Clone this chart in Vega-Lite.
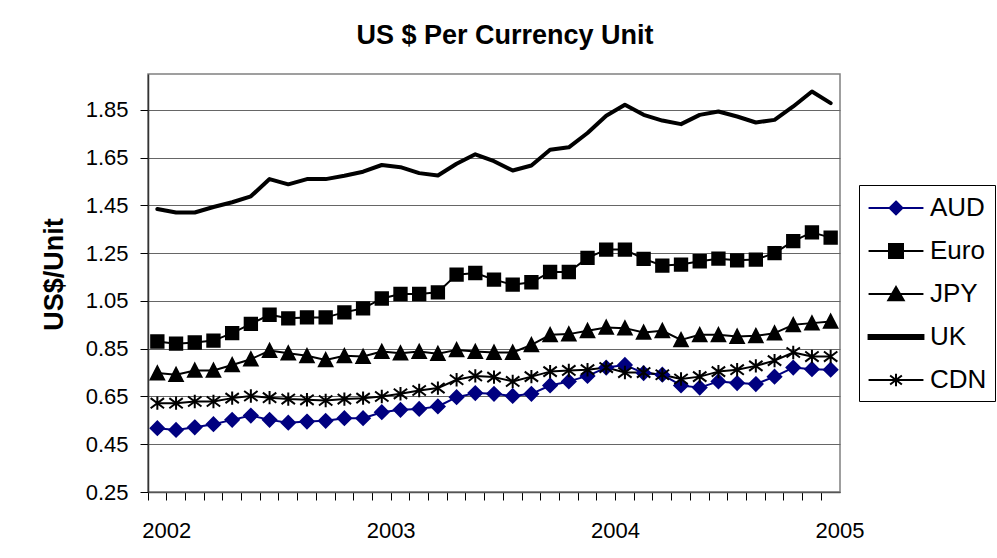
{
  "$schema": "https://vega.github.io/schema/vega-lite/v6.json",
  "width": 692,
  "height": 418,
  "autosize": {"type": "none"},
  "padding": {"left": 148, "top": 74, "right": 157, "bottom": 66},
  "background": "white",
  "config": {"font": "Liberation Sans", "view": {"stroke": "#808080", "strokeWidth": 1.5}},
  "title": {"text": "US $ Per Currency Unit", "fontSize": 27, "fontWeight": "bold", "font": "Liberation Sans", "color": "#000", "offset": 24, "dx": 11, "anchor": "middle"},
  "data": {"values": [
    {"month": "2002-01", "AUD": 0.517, "Euro": 0.880, "JPY": 0.748, "UK": 1.435, "CDN": 0.622},
    {"month": "2002-02", "AUD": 0.510, "Euro": 0.871, "JPY": 0.741, "UK": 1.420, "CDN": 0.622},
    {"month": "2002-03", "AUD": 0.521, "Euro": 0.876, "JPY": 0.759, "UK": 1.420, "CDN": 0.629},
    {"month": "2002-04", "AUD": 0.534, "Euro": 0.884, "JPY": 0.759, "UK": 1.443, "CDN": 0.629},
    {"month": "2002-05", "AUD": 0.552, "Euro": 0.915, "JPY": 0.782, "UK": 1.463, "CDN": 0.643},
    {"month": "2002-06", "AUD": 0.570, "Euro": 0.954, "JPY": 0.806, "UK": 1.488, "CDN": 0.652},
    {"month": "2002-07", "AUD": 0.552, "Euro": 0.992, "JPY": 0.842, "UK": 1.560, "CDN": 0.645},
    {"month": "2002-08", "AUD": 0.540, "Euro": 0.977, "JPY": 0.831, "UK": 1.538, "CDN": 0.639},
    {"month": "2002-09", "AUD": 0.545, "Euro": 0.981, "JPY": 0.820, "UK": 1.560, "CDN": 0.636},
    {"month": "2002-10", "AUD": 0.548, "Euro": 0.981, "JPY": 0.803, "UK": 1.560, "CDN": 0.633},
    {"month": "2002-11", "AUD": 0.559, "Euro": 1.002, "JPY": 0.820, "UK": 1.574, "CDN": 0.639},
    {"month": "2002-12", "AUD": 0.559, "Euro": 1.019, "JPY": 0.817, "UK": 1.591, "CDN": 0.643},
    {"month": "2003-01", "AUD": 0.584, "Euro": 1.060, "JPY": 0.838, "UK": 1.619, "CDN": 0.650},
    {"month": "2003-02", "AUD": 0.594, "Euro": 1.079, "JPY": 0.831, "UK": 1.610, "CDN": 0.661},
    {"month": "2003-03", "AUD": 0.598, "Euro": 1.079, "JPY": 0.838, "UK": 1.585, "CDN": 0.675},
    {"month": "2003-04", "AUD": 0.608, "Euro": 1.086, "JPY": 0.829, "UK": 1.575, "CDN": 0.685},
    {"month": "2003-05", "AUD": 0.647, "Euro": 1.160, "JPY": 0.845, "UK": 1.624, "CDN": 0.720},
    {"month": "2003-06", "AUD": 0.664, "Euro": 1.167, "JPY": 0.838, "UK": 1.664, "CDN": 0.736},
    {"month": "2003-07", "AUD": 0.661, "Euro": 1.139, "JPY": 0.834, "UK": 1.635, "CDN": 0.731},
    {"month": "2003-08", "AUD": 0.652, "Euro": 1.118, "JPY": 0.834, "UK": 1.596, "CDN": 0.713},
    {"month": "2003-09", "AUD": 0.661, "Euro": 1.128, "JPY": 0.866, "UK": 1.617, "CDN": 0.733},
    {"month": "2003-10", "AUD": 0.696, "Euro": 1.171, "JPY": 0.908, "UK": 1.683, "CDN": 0.754},
    {"month": "2003-11", "AUD": 0.713, "Euro": 1.171, "JPY": 0.911, "UK": 1.693, "CDN": 0.759},
    {"month": "2003-12", "AUD": 0.736, "Euro": 1.230, "JPY": 0.925, "UK": 1.753, "CDN": 0.762},
    {"month": "2004-01", "AUD": 0.771, "Euro": 1.265, "JPY": 0.939, "UK": 1.825, "CDN": 0.771},
    {"month": "2004-02", "AUD": 0.782, "Euro": 1.265, "JPY": 0.936, "UK": 1.871, "CDN": 0.750},
    {"month": "2004-03", "AUD": 0.748, "Euro": 1.226, "JPY": 0.918, "UK": 1.829, "CDN": 0.750},
    {"month": "2004-04", "AUD": 0.741, "Euro": 1.198, "JPY": 0.925, "UK": 1.805, "CDN": 0.741},
    {"month": "2004-05", "AUD": 0.696, "Euro": 1.202, "JPY": 0.887, "UK": 1.790, "CDN": 0.723},
    {"month": "2004-06", "AUD": 0.687, "Euro": 1.216, "JPY": 0.908, "UK": 1.829, "CDN": 0.733},
    {"month": "2004-07", "AUD": 0.713, "Euro": 1.227, "JPY": 0.908, "UK": 1.843, "CDN": 0.754},
    {"month": "2004-08", "AUD": 0.706, "Euro": 1.220, "JPY": 0.901, "UK": 1.822, "CDN": 0.762},
    {"month": "2004-09", "AUD": 0.702, "Euro": 1.223, "JPY": 0.904, "UK": 1.797, "CDN": 0.778},
    {"month": "2004-10", "AUD": 0.733, "Euro": 1.250, "JPY": 0.915, "UK": 1.808, "CDN": 0.800},
    {"month": "2004-11", "AUD": 0.771, "Euro": 1.300, "JPY": 0.950, "UK": 1.864, "CDN": 0.834},
    {"month": "2004-12", "AUD": 0.764, "Euro": 1.337, "JPY": 0.957, "UK": 1.927, "CDN": 0.817},
    {"month": "2005-01", "AUD": 0.762, "Euro": 1.315, "JPY": 0.964, "UK": 1.878, "CDN": 0.817}
  ]},
  "transform": [{"fold": ["AUD", "Euro", "JPY", "UK", "CDN"], "as": ["cur", "v"]}],
  "encoding": {
    "x": {
      "field": "month", "type": "ordinal", "bandPosition": 0.5,
      "scale": {"type": "band", "paddingInner": 0, "paddingOuter": 0},
      "axis": {
        "title": null, "bandPosition": 0,
        "labelExpr": "slice(datum.value, 5) == '01' ? slice(datum.value, 0, 4) : ''",
        "labelAngle": 0, "labelOverlap": false, "labelBound": false, "labelOffset": 9.35,
        "labelFontSize": 22, "labelColor": "#000", "labelPadding": 20,
        "tickSize": 8, "tickColor": "#000", "tickWidth": 1,
        "domainColor": "#555", "domainWidth": 1.5, "grid": false
      }
    },
    "y": {
      "field": "v", "type": "quantitative",
      "scale": {"domain": [0.25, 2.0], "nice": false, "zero": false},
      "axis": {
        "title": "US$/Unit", "titleFontSize": 27, "titleFontWeight": "bold", "titleColor": "#000",
        "titlePadding": 17, "titleY": 200,
        "values": [0.25, 0.45, 0.65, 0.85, 1.05, 1.25, 1.45, 1.65, 1.85],
        "format": ".2f", "labelFontSize": 22, "labelColor": "#000", "labelPadding": 12,
        "tickSize": 8, "tickColor": "#000", "grid": true, "gridColor": "#666", "gridWidth": 1,
        "domainColor": "#333", "domainWidth": 1.5
      }
    },
    "color": {
      "field": "cur", "type": "nominal",
      "scale": {"domain": ["AUD", "Euro", "JPY", "UK", "CDN"], "range": ["#000080", "#000000", "#000000", "#000000", "#000000"]},
      "legend": {
        "title": null, "orient": "none", "legendX": 711, "legendY": 111, "direction": "vertical",
        "strokeColor": "#000", "fillColor": "#fff", "padding": 8,
        "labelFontSize": 26, "labelFont": "Liberation Sans", "labelColor": "#000", "labelLimit": 300,
        "symbolSize": 784, "symbolOffset": 14, "labelOffset": 19, "rowPadding": 15,
        "symbolStrokeWidth": 2,
        "encode": {
          "symbols": {
            "update": {
              "shape": {"signal": "datum.value === 'AUD' ? 'M-1.96,0H1.96M0,-0.46L0.46,0L0,0.46L-0.46,0Z' : datum.value === 'Euro' ? 'M-1.96,0H1.96M-0.5,-0.5H0.5V0.5H-0.5Z' : datum.value === 'JPY' ? 'M-1.96,0H1.96M0,-0.5L0.55,0.45L-0.55,0.45Z' : datum.value === 'CDN' ? 'M-1.96,0H1.96M0,-0.45V0.45M-0.42,-0.32L0.42,0.32M-0.42,0.32L0.42,-0.32' : 'M-1.96,-0.14H1.96V0.14H-1.96Z'"},
              "stroke": {"signal": "datum.value === 'AUD' ? '#000080' : '#000000'"},
              "fill": {"signal": "datum.value === 'AUD' ? '#000080' : '#000000'"},
              "strokeWidth": {"value": 2},
              "opacity": {"value": 1},
              "fillOpacity": {"value": 1},
              "strokeOpacity": {"value": 1}
            }
          }
        }
      }
    }
  },
  "layer": [
    {
      "transform": [{"filter": "datum.cur !== 'UK'"}],
      "mark": {"type": "line", "strokeWidth": 2, "strokeJoin": "round"}
    },
    {
      "transform": [{"filter": "datum.cur === 'UK'"}],
      "mark": {"type": "line", "strokeWidth": 4, "strokeJoin": "round", "strokeCap": "round"}
    },
    {
      "transform": [{"filter": "datum.cur !== 'UK'"}],
      "mark": {"type": "point", "filled": true, "opacity": 1, "size": 180, "strokeWidth": 2},
      "encoding": {
        "stroke": {
          "field": "cur", "type": "nominal",
          "scale": {"domain": ["AUD", "Euro", "JPY", "CDN"], "range": ["#000080", "#000000", "#000000", "#000000"]},
          "legend": null
        },
        "shape": {
          "field": "cur", "type": "nominal",
          "scale": {"domain": ["AUD", "Euro", "JPY", "CDN"], "range": ["M0,-1L1,0L0,1L-1,0Z", "M-0.92,-0.92H0.92V0.92H-0.92Z", "M0,-1L1,0.95L-1,0.95Z", "M0,-1V1M-1,-0.75L1,0.75M-1,0.75L1,-0.75"]},
          "legend": null
        }
      }
    }
  ]
}
